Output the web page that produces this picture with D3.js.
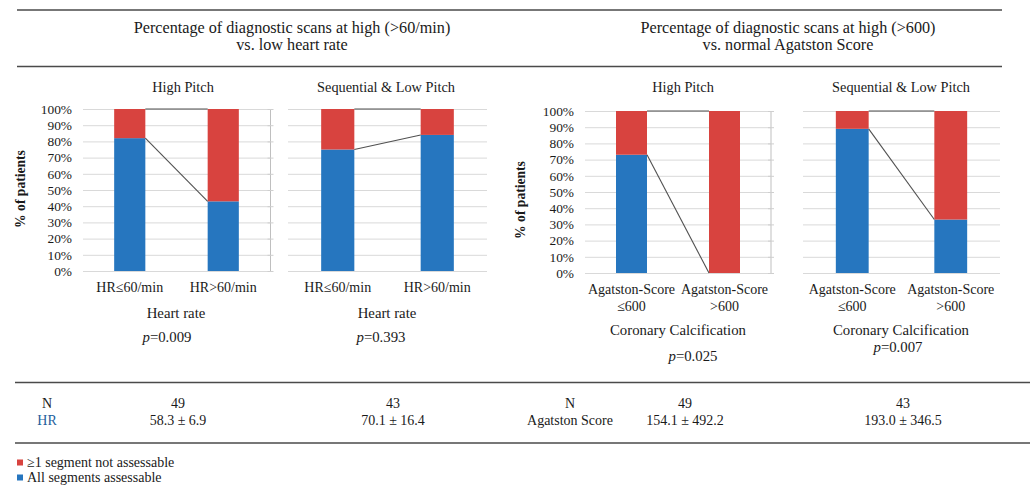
<!DOCTYPE html>
<html><head><meta charset="utf-8">
<script src="https://cdn.jsdelivr.net/npm/d3@7"></script>
<style>
body{margin:0;background:#fff}
svg{display:block}
</style>
</head><body>
<svg id="c" width="1032" height="488" font-family="Liberation Serif, Times New Roman, serif"></svg>
<script>
// ---------- data ----------
const hrCategories = ["HR≤60/min", "HR>60/min"];
const asCategories = ["Agatston-Score|≤600", "Agatston-Score|>600"];
const highPitchHR = [82, 43];   // % all segments assessable
const seqLowHR    = [75, 84];
const highPitchAS = [73, 0];
const seqLowAS    = [89, 33];
const yTicks = [0, 10, 20, 30, 40, 50, 60, 70, 80, 90, 100];
const seriesKeys  = ["ok", "bad"];
const seriesNames = ["≥1 segment not assessable", "All segments assessable"];
const groupTitles = [
  ["Percentage of diagnostic scans at high (>60/min)", "vs. low heart rate"],
  ["Percentage of diagnostic scans at high (>600)", "vs. normal Agatston Score"]
];
const subTitles = ["High Pitch", "Sequential & Low Pitch", "High Pitch", "Sequential & Low Pitch"];
const xTitles = ["Heart rate", "Heart rate", "Coronary Calcification", "Coronary Calcification"];
const pValues = ["0.009", "0.393", "0.025", "0.007"];
const tableN = ["49", "43", "49", "43"];
const tableRowLabels = ["HR", "Agatston Score"];
const tableStats = ["58.3 ± 6.9", "70.1 ± 16.4", "154.1 ± 492.2", "193.0 ± 346.5"];

// ---------- style ----------
const FONT = "Liberation Serif";
const INK = "#1a1a1a";
const RED = "#d8433f", BLUE = "#2676bf", GRID = "#d9d9d9", RULE = "#4a4a4a";
const svg = d3.select("#c");
function txt(parent, x, y, size, t, anchor = "middle") {
  return parent.append("text").attr("x", x).attr("y", y).attr("text-anchor", anchor)
    .attr("font-family", FONT).attr("font-size", size).attr("fill", INK).text(t);
}

// horizontal rules
[[17, 1002, 10], [17, 1002, 66.5], [15, 1030, 382.5], [15, 1030, 443]].forEach(([a, b, y]) =>
  svg.append("line").attr("x1", a).attr("x2", b).attr("y1", y).attr("y2", y)
    .attr("stroke", RULE).attr("stroke-width", 1.6));

// group titles
[[292, groupTitles[0]], [788, groupTitles[1]]].forEach(([cx, lines]) => {
  lines.forEach((t, i) => txt(svg, cx, 33 + i * 16.5, 16.2, t));
});

// ---------- panels ----------
const panels = [
  {cats: hrCategories, vals: highPitchHR, x0: 83, x1: 270, yT: 109, yB: 271, labels: true, labelX: 72, titleX: 20, titleY: 189, subX: 183, xtX: 176, xtY: 318, pX: 167, pY: 342, catY: 292},
  {cats: hrCategories, vals: seqLowHR, x0: 288, x1: 487, yT: 109, yB: 271, labels: false, ghostX: 270.5, subX: 386, xtX: 387, xtY: 318, pX: 381, pY: 342, catY: 292},
  {cats: asCategories, vals: highPitchAS, x0: 585, x1: 771, yT: 111, yB: 273, labels: true, labelX: 574, titleX: 520, titleY: 200, subX: 683, xtX: 678, xtY: 335, pX: 693, pY: 361, catY: 294},
  {cats: asCategories, vals: seqLowAS, x0: 803, x1: 1000, yT: 111, yB: 273, labels: false, ghostX: 771, subX: 901, xtX: 901, xtY: 335, pX: 898, pY: 352, catY: 294}
];

panels.forEach((p, pi) => {
  const g = svg.append("g");
  const x = d3.scaleBand().domain(p.cats).range([p.x0, p.x1]).paddingInner(2 / 3).paddingOuter(1 / 3);
  const y = d3.scaleLinear().domain([0, 100]).range([p.yB, p.yT]);

  // subtitle
  txt(g, p.subX, 92, 14.3, subTitles[pi]);

  // gridlines
  g.selectAll(".grid").data(yTicks).join("line")
    .attr("x1", p.x0).attr("x2", p.x1).attr("y1", d => y(d) + 0.5).attr("y2", d => y(d) + 0.5)
    .attr("stroke", GRID).attr("stroke-width", 1);

  // y axis labels
  if (p.labels) {
    const ax = g.append("g").attr("transform", `translate(${p.labelX + 3},0)`)
      .call(d3.axisLeft(y).tickValues(yTicks).tickFormat(d => d + "%").tickSize(0).tickPadding(3));
    ax.select(".domain").remove();
    ax.selectAll("text").attr("font-size", 13.4).attr("font-family", FONT).attr("fill", INK);
    g.append("text").attr("transform", `translate(${p.titleX + 5},${p.titleY}) rotate(-90)`)
      .attr("text-anchor", "middle").attr("font-family", FONT).attr("font-size", 13.6)
      .attr("font-weight", "bold").attr("fill", INK).text("% of patients");
  } else {
    // faint secondary axis line with ticks
    g.append("line").attr("x1", p.ghostX).attr("x2", p.ghostX).attr("y1", p.yT).attr("y2", p.yB + 0.5)
      .attr("stroke", "#bfbfbf");
    g.selectAll(".gt").data(yTicks).join("line")
      .attr("x1", p.ghostX - 3).attr("x2", p.ghostX + 3).attr("y1", d => y(d) + 0.5).attr("y2", d => y(d) + 0.5)
      .attr("stroke", "#cfcfcf");
  }

  // stacked bars
  const rows = p.cats.map((c, i) => ({cat: c, ok: p.vals[i], bad: 100 - p.vals[i]}));
  const stacked = d3.stack().keys(seriesKeys)(rows);
  const color = {ok: BLUE, bad: RED};
  stacked.forEach(s => {
    g.selectAll(null).data(s).join("rect")
      .attr("x", d => x(d.data.cat)).attr("width", x.bandwidth())
      .attr("y", d => y(d[1])).attr("height", d => y(d[0]) - y(d[1]))
      .attr("fill", color[s.key]);
  });

  // series lines
  stacked.forEach(s => {
    for (let i = 0; i < s.length - 1; i++) {
      g.append("line")
        .attr("x1", x(s[i].data.cat) + x.bandwidth()).attr("y1", y(s[i][1]))
        .attr("x2", x(s[i + 1].data.cat)).attr("y2", y(s[i + 1][1]))
        .attr("stroke", "#505050").attr("stroke-width", 1.1);
    }
  });

  // category labels
  p.cats.forEach(c => {
    c.split("|").forEach((t, k) => txt(g, x(c) + x.bandwidth() / 2, p.catY + k * 17, 14, t));
  });

  // x title and p value
  txt(g, p.xtX, p.xtY, 14.8, xTitles[pi]);
  const pt = txt(g, p.pX, p.pY, 14.8, "");
  pt.append("tspan").attr("font-style", "italic").text("p");
  pt.append("tspan").text("=" + pValues[pi]);
});

// ---------- table ----------
const tcols = [178, 393, 685, 903];
[[47, 0], [570, 1]].forEach(([cx, k]) => {
  txt(svg, cx, 408, 14, "N");
  txt(svg, cx, 425, 14, tableRowLabels[k]).attr("fill", k === 0 ? "#24609c" : INK);
});
tcols.forEach((cx, i) => {
  txt(svg, cx, 408, 14, tableN[i]);
  txt(svg, cx, 425, 14, tableStats[i]);
});

// ---------- legend ----------
[[RED, seriesNames[0]], [BLUE, seriesNames[1]]].forEach(([c, t], i) => {
  svg.append("rect").attr("x", 17).attr("y", 459.5 + i * 15).attr("width", 6).attr("height", 6).attr("fill", c);
  txt(svg, 27, 467 + i * 15, 14, t, "start");
});
</script>
</body></html>
